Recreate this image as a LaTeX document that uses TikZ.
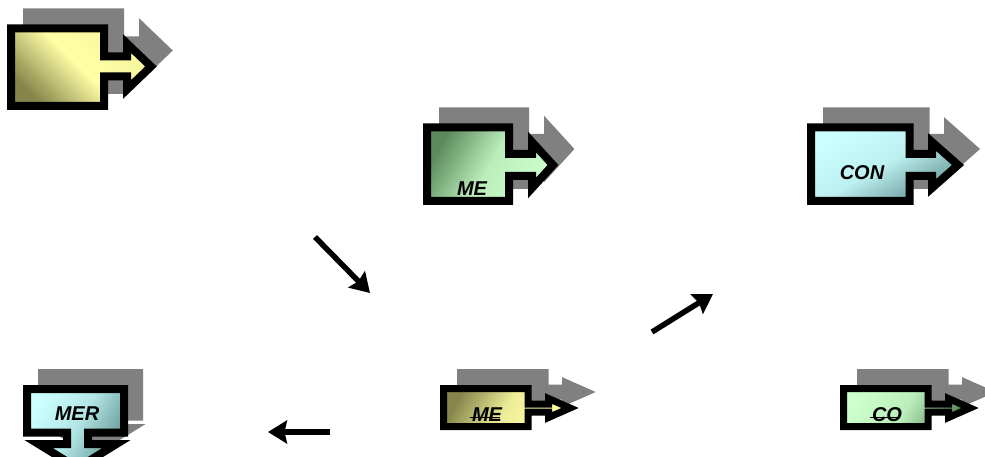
\documentclass[tikz,border=0pt]{standalone}
\usepackage{fontspec}
\setmainfont{Liberation Sans}
\usetikzlibrary{arrows.meta}

\definecolor{shadowgray}{HTML}{808080}
\definecolor{Ylight}{HTML}{FFFFA6}
\definecolor{Ydark}{HTML}{86864C}
\definecolor{Glight}{HTML}{CCFFCC}
\definecolor{Gdark}{HTML}{5C8A5C}
\definecolor{Clight}{HTML}{CCFFFF}
\definecolor{Cdark}{HTML}{669797}

% right-pointing callout: box (L,T)-(R,B), arrow on centre line C,
% shaft half width s, head half width h, head base N, tip X
\newcommand\rcall[9]{(#1,#2) -- (#3,#2) -- (#3,#5-#6) -- (#8,#5-#6) -- (#8,#5-#7) -- (#9,#5) -- (#8,#5+#7) -- (#8,#5+#6) -- (#3,#5+#6) -- (#3,#4) -- (#1,#4) -- cycle}
% downward callout: box (L,T)-(R,B), arrow on column Cx,
% shaft half width s, head half width h, head base N, tip X
\newcommand\dcall[9]{(#1,#2) -- (#3,#2) -- (#3,#4) -- (#5+#6,#4) -- (#5+#6,#8) -- (#5+#7,#8) -- (#5,#9) -- (#5-#7,#8) -- (#5-#6,#8) -- (#5-#6,#4) -- (#1,#4) -- cycle}

\tikzset{
  shadowbox/.style={fill=shadowgray, draw=shadowgray, line width=#1, line join=miter},
  calloutbox/.style={draw=black, line width=#1, line join=miter},
  lbl/.style={font=\bfseries\itshape\fontsize{20}{22}\selectfont, inner sep=0pt},
  flow/.style={line width=5.5pt, -{Stealth[length=19pt,width=23pt,inset=2.5pt]}},
  strike/.style={line width=1.3pt}
}

\begin{document}
\begin{tikzpicture}[x=1pt, y=-1pt]
\useasboundingbox (0,0) rectangle (985,457);
\clip (0,0) rectangle (985,457);

% top-left yellow callout
\path[shadowbox=8pt, shift={(16,-16)}] \rcall{11}{28.5}{104}{106}{66.5}{10}{23}{127}{151};
\draw[calloutbox=8pt, top color=Ylight!92!Ydark, bottom color=Ydark, middle color=Ylight, shading angle=-45]
  \rcall{11}{28.5}{104}{106}{66.5}{10}{23}{127}{151};

% green callout ME
\path[shadowbox=8pt, shift={(16,-16)}] \rcall{427}{127.5}{509}{201}{165}{11}{23}{532}{553};
\draw[calloutbox=8pt, top color=Gdark, bottom color=Glight, middle color=Glight!85!Gdark, shading angle=60]
  \rcall{427}{127.5}{509}{201}{165}{11}{23}{532}{553};
\node[lbl] (me1) at (472,188.5) {ME};

% cyan callout CON
\path[shadowbox=8pt, shift={(16,-16)}] \rcall{811}{127.5}{909.5}{201}{165}{11}{23}{932}{958};
\draw[calloutbox=8pt, top color=Clight, bottom color=Cdark, middle color=Clight!85!Cdark, shading angle=30]
  \rcall{811}{127.5}{909.5}{201}{165}{11}{23}{932}{958};
\node[lbl] (con) at (862,172.5) {CON};

% cyan downward callout MER
\path[shadowbox=8pt, shift={(15,-16)}] \dcall{27}{389}{124}{432.5}{77.5}{10.5}{39}{444}{468};
\draw[calloutbox=8pt, top color=Clight, bottom color=Cdark, middle color=Clight!75!Cdark, shading angle=60]
  \dcall{27}{389}{124}{432.5}{77.5}{10.5}{39}{444}{468};
\node[lbl] (mer) at (77,414) {MER};

% small yellow callout ME
\path[shadowbox=7pt, shift={(17,-16)}] \rcall{443.5}{388.5}{528}{426.5}{408}{4}{9.5}{548.5}{570};
\draw[calloutbox=7pt, top color=Ydark, bottom color=Ylight, middle color=Ylight!85!Ydark, shading angle=60]
  \rcall{443.5}{388.5}{528}{426.5}{408}{4}{9.5}{548.5}{570};
\node[lbl] (me2) at (487,414.5) {ME};
\draw[strike] ([xshift=-2pt,yshift=-3pt]me2.west) -- ([xshift=-2pt,yshift=-3pt]me2.east);

% small green callout CO
\path[shadowbox=7pt, shift={(17,-16)}] \rcall{843.5}{388.5}{928}{426.5}{408}{4}{9.5}{948.5}{970};
\draw[calloutbox=7pt, top color=Glight, bottom color=Gdark, middle color=Glight!85!Gdark, shading angle=60]
  \rcall{843.5}{388.5}{928}{426.5}{408}{4}{9.5}{948.5}{970};
\node[lbl] (co) at (887,414.5) {CO};
\draw[strike] ([xshift=-2pt,yshift=-3pt]co.west) -- ([xshift=-2pt,yshift=-3pt]co.east);

% flow arrows
\coordinate (f1s) at (315,237);
\coordinate (f1e) at (370,293);
\coordinate (f2s) at (652,332);
\coordinate (f2e) at (713,294);
\coordinate (f3s) at (330,432);
\coordinate (f3e) at (268,432);
\draw[flow] (f1s) -- (f1e);
\draw[flow] (f2s) -- (f2e);
\draw[flow] (f3s) -- (f3e);
\end{tikzpicture}
\end{document}
